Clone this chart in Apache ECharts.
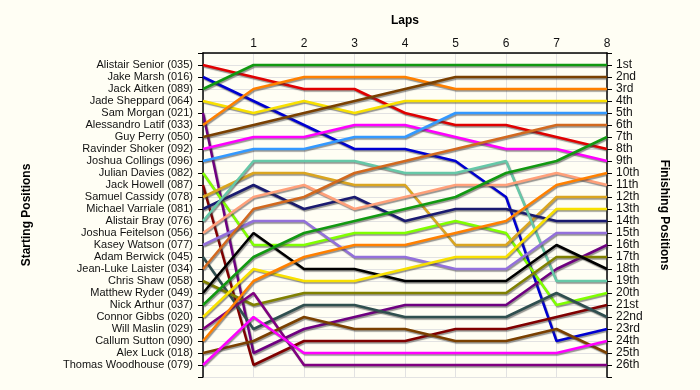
<!DOCTYPE html>
<html>
<head>
<meta charset="utf-8">
<script src="https://cdn.jsdelivr.net/npm/echarts@6/dist/echarts.min.js"></script>
<style>
html,body{margin:0;padding:0;background:#fffef4;}
#chart{width:700px;height:390px;}
</style>
</head>
<body>
<div id="chart"></div>
<script>
// Drivers in starting order (grid position 1..26)
const drivers = [
  'Alistair Senior (035)','Jake Marsh (016)','Jack Aitken (089)','Jade Sheppard (064)',
  'Sam Morgan (021)','Alessandro Latif (033)','Guy Perry (050)','Ravinder Shoker (092)',
  'Joshua Collings (096)','Julian Davies (082)','Jack Howell (087)','Samuel Cassidy (078)',
  'Michael Varriale (081)','Alistair Bray (076)','Joshua Feitelson (056)','Kasey Watson (077)',
  'Adam Berwick (045)','Jean-Luke Laister (034)','Chris Shaw (058)','Matthew Ryder (049)',
  'Nick Arthur (037)','Connor Gibbs (020)','Will Maslin (029)','Callum Sutton (090)',
  'Alex Luck (018)','Thomas Woodhouse (079)'
];
const colors = [
  '#e00000','#0000d0','#119911','#f8e000','#6e0080','#ff8000','#7a4000','#ff00ff',
  '#3399ff','#80ff00','#800000','#daa520','#1a1a70','#66c8a8','#ffa07a','#9370db',
  '#2f4f4f','#d2691e','#808000','#000000','#119911','#f8e000','#800080','#ff8000',
  '#7a4000','#ff00ff'
];
const laps = [0,1,2,3,4,5,6,7,8];
const lapLabels = ['', '1','2','3','4','5','6','7','8'];
const finishLabels = ['1st','2nd','3rd','4th','5th','6th','7th','8th','9th','10th','11th','12th','13th',
  '14th','15th','16th','17th','18th','19th','20th','21st','22nd','23rd','24th','25th','26th'];
// Position of each driver after each lap (lap 0 = start)
const positions = [
  [1,2,3,3,5,6,6,7,8],       // Senior
  [2,4,6,8,8,9,12,24,23],    // Marsh
  [3,1,1,1,1,1,1,1,1],       // Aitken
  [4,5,4,5,4,4,4,4,4],       // Sheppard
  [5,25,23,22,21,21,21,18,16], // Morgan
  [6,3,2,2,2,3,3,3,3],       // Latif
  [7,6,5,4,3,2,2,2,2],       // Perry
  [8,7,7,6,6,7,8,8,9],       // Shoker
  [9,8,8,7,7,5,5,5,5],       // Collings
  [10,16,16,15,15,14,15,21,20], // Davies
  [11,26,24,24,24,23,23,22,21], // Howell
  [12,10,10,11,11,16,16,12,12], // Cassidy
  [13,11,13,12,14,13,13,14,14], // Varriale
  [14,9,9,9,10,10,9,19,19],  // Bray
  [15,12,11,13,12,11,11,10,11], // Feitelson
  [16,14,14,17,17,18,18,15,15], // Watson
  [17,23,21,21,22,22,22,20,22], // Berwick
  [18,13,12,10,9,8,7,6,6],   // Laister
  [19,21,20,20,20,20,20,17,17], // Shaw
  [20,15,18,18,19,19,19,16,18], // Ryder
  [21,17,15,14,13,12,10,9,7],   // Arthur
  [22,18,19,19,18,17,17,13,13], // Gibbs
  [23,20,26,26,26,26,26,26,26], // Maslin
  [24,19,17,16,16,15,14,11,10], // Sutton
  [25,24,22,23,23,24,24,23,25], // Luck
  [26,22,25,25,25,25,25,25,24]  // Woodhouse
];

const chart = echarts.init(document.getElementById('chart'), null, {renderer:'canvas'});
const font = 'Liberation Sans, Arial, sans-serif';
const series = drivers.map((d, i) => ({
  name: d,
  type: 'line',
  yAxisIndex: 0,
  data: laps.map((l, k) => [l, positions[i][k]]),
  symbol: 'none',
  silent: true,
  animation: false,
  lineStyle: {
    color: colors[i], width: 2.5,
    shadowColor: 'rgba(60,60,60,0.55)', shadowBlur: 1, shadowOffsetX: 1, shadowOffsetY: 1.5
  }
}));
// dummy series to bind the right axis
series.push({type:'line', yAxisIndex:1, data:[], silent:true});

chart.setOption({
  backgroundColor: '#fffef4',
  animation: false,
  grid: {left: 203, right: 93, top: 53, bottom: 13, containLabel: false},
  xAxis: {
    type: 'value', position: 'top', min: 0, max: 8, interval: 1,
    name: 'Laps', nameLocation: 'middle', nameGap: 26,
    nameTextStyle: {fontFamily: font, fontSize: 12, fontWeight: 'bold', color: '#000'},
    axisLine: {show: true, lineStyle: {color: '#000', width: 1.5}},
    axisTick: {show: false},
    axisLabel: {margin: 3, fontFamily: font, fontSize: 12, color: '#111',
      formatter: v => lapLabels[v] !== undefined ? lapLabels[v] : ''},
    splitLine: {show: true, lineStyle: {color: '#e2e2e2', width: 1}}
  },
  yAxis: [
    {
      type: 'value', inverse: true, min: 0, max: 27, interval: 1, position: 'left',
      name: 'Starting Positions', nameLocation: 'middle', nameGap: 170, nameRotate: 90,
      nameTextStyle: {fontFamily: font, fontSize: 12, fontWeight: 'bold', color: '#000'},
      axisLine: {show: true, onZero: false, lineStyle: {color: '#000', width: 1.5}},
      axisTick: {show: true, inside: false, length: 5, lineStyle: {color: '#000'}},
      axisLabel: {margin: 10, fontFamily: font, fontSize: 11, color: '#111',
        formatter: v => (v >= 1 && v <= 26) ? drivers[v - 1] : ''},
      splitLine: {show: true, lineStyle: {color: '#e2e2e2', width: 1}}
    },
    {
      type: 'value', inverse: true, min: 0, max: 27, interval: 1, position: 'right',
      name: 'Finishing Positions', nameLocation: 'middle', nameGap: 51, nameRotate: -90,
      nameTextStyle: {fontFamily: font, fontSize: 12, fontWeight: 'bold', color: '#000'},
      axisLine: {show: true, onZero: false, lineStyle: {color: '#000', width: 1.5}},
      axisTick: {show: true, inside: false, length: 5, lineStyle: {color: '#000'}},
      axisLabel: {margin: 9, fontFamily: font, fontSize: 12, color: '#111',
        formatter: v => (v >= 1 && v <= 26) ? finishLabels[v - 1] : ''},
      splitLine: {show: false}
    }
  ],
  series: series
});
</script>
</body>
</html>
